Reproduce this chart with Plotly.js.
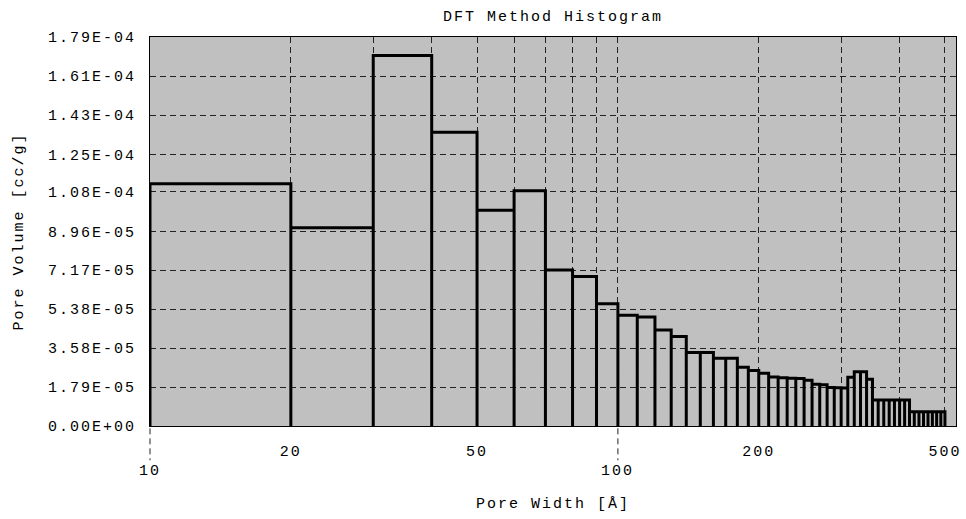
<!DOCTYPE html>
<html>
<head>
<meta charset="utf-8">
<script src="https://cdn.plot.ly/plotly-3.0.1.min.js"></script>
<style>
  html, body { margin: 0; padding: 0; background: #fff; }
  #chart { width: 966px; height: 519px; }
  svg text { letter-spacing: 2px; }
</style>
</head>
<body>
<div id="chart"></div>
<script>
// Bin edges of the pore-width histogram (Å)
const binEdges = [10, 20, 30, 40, 50, 60, 70, 80, 90, 100,
  110, 120, 130, 140, 150, 160, 170, 180, 190, 200,
  210, 220, 230, 240, 250, 260, 270, 280, 290, 300,
  310, 320, 330, 340, 350, 360, 370, 380, 390, 400,
  410, 420, 430, 440, 450, 460, 470, 480, 490, 500];

// Pore volume per bin (cc/g)
const poreVolume = [1.115e-4, 9.12e-5, 1.705e-4, 1.352e-4, 9.93e-5, 1.082e-4, 7.18e-5, 6.88e-5, 5.62e-5,
  5.10e-5, 5.01e-5, 4.42e-5, 4.12e-5, 3.38e-5, 3.38e-5, 3.12e-5, 3.12e-5, 2.70e-5, 2.55e-5,
  2.43e-5, 2.25e-5, 2.22e-5, 2.20e-5, 2.18e-5, 2.10e-5, 1.92e-5, 1.90e-5, 1.77e-5, 1.76e-5,
  1.75e-5, 2.24e-5, 2.50e-5, 2.50e-5, 2.15e-5, 1.20e-5, 1.20e-5, 1.20e-5, 1.20e-5, 1.20e-5,
  1.20e-5, 1.20e-5, 6.6e-6, 6.6e-6, 6.6e-6, 6.6e-6, 6.6e-6, 6.6e-6, 6.6e-6, 6.6e-6];

// Y tick labels
const yTickLabels = ['0.00E+00', '1.79E-05', '3.58E-05', '5.38E-05', '7.17E-05', '8.96E-05',
  '1.08E-04', '1.25E-04', '1.43E-04', '1.61E-04', '1.79E-04'];

// X grid positions and labels
const xGridValues = [20, 30, 40, 50, 60, 70, 80, 90, 100, 200, 300, 400, 500];
const xLabelsUpper = [20, 50, 200, 500];
const xLabelsLower = [10, 100];

// Build outline path of each histogram bar
const px = [], py = [];
for (let i = 0; i < poreVolume.length; i++) {
  const lo = binEdges[i], hi = binEdges[i + 1], v = poreVolume[i];
  px.push(lo, lo, hi, hi);
  py.push(0, v, v, 0);
}

const FONT = 'Liberation Mono, Courier New, monospace';
const textFont = { family: FONT, size: 15, color: '#000' };
const xLogMax = 2.7226;
const xRange = [1, xLogMax];
const toPaperX = v => (Math.log10(v) - xRange[0]) / (xRange[1] - xRange[0]);

const trace = {
  type: 'scatter', mode: 'lines', x: px, y: py,
  line: { color: '#000', width: 3, shape: 'linear' },
  hoverinfo: 'skip', showlegend: false
};

const shapes = xLabelsLower.map(v => ({
  type: 'line', xref: 'paper', yref: 'paper',
  x0: toPaperX(v), x1: toPaperX(v),
  y0: -0.006, y1: -0.088,
  line: { color: '#222', width: 1, dash: '6px,4px' }
}));

const annotations = xLabelsLower.map(v => ({
  xref: 'paper', yref: 'paper', x: toPaperX(v), y: -0.118,
  xanchor: 'center', yanchor: 'middle', showarrow: false,
  text: String(v), font: textFont
}));

const layout = {
  width: 966, height: 519,
  margin: { l: 150, r: 10, t: 37, b: 93 },
  paper_bgcolor: '#fff', plot_bgcolor: '#C0C0C0',
  showlegend: false,
  title: {
    text: 'DFT Method Histogram', font: textFont,
    x: 0.5, xref: 'paper', xanchor: 'center',
    y: 1 - 15.5 / 519, yref: 'container', yanchor: 'middle'
  },
  xaxis: {
    type: 'log', range: xRange,
    tickmode: 'array', tickvals: xGridValues,
    ticktext: xGridValues.map(v => xLabelsUpper.includes(v) ? String(v) : ''),
    ticks: '', ticklabelstandoff: 11,
    tickfont: textFont,
    showgrid: true, gridcolor: '#222', gridwidth: 1, griddash: '6px,4px',
    showline: true, mirror: true, linecolor: '#000', linewidth: 1,
    zeroline: false,
    title: { text: 'Pore Width [Å]', font: textFont, standoff: 37 }
  },
  yaxis: {
    range: [0, 1.79e-4],
    tickmode: 'array', tickvals: yTickLabels.map(parseFloat), ticktext: yTickLabels,
    ticks: '', ticklabelstandoff: 10,
    tickfont: textFont,
    showgrid: true, gridcolor: '#222', gridwidth: 1, griddash: '6px,4px',
    showline: true, mirror: true, linecolor: '#000', linewidth: 1,
    zeroline: false,
    title: { text: 'Pore Volume [cc/g]', font: textFont, standoff: 20 }
  },
  shapes: shapes,
  annotations: annotations
};

Plotly.newPlot('chart', [trace], layout, { displayModeBar: false, staticPlot: true });
</script>
</body>
</html>
